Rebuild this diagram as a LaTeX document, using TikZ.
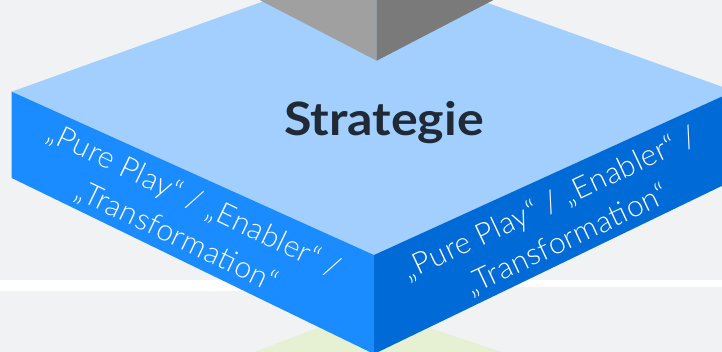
\documentclass[tikz,border=0pt]{standalone}
\usepackage{fontspec}
\setmainfont{Lato}
\newfontfamily\lightf{Lato Light}[LetterSpace=2]
\definecolor{bggray}{HTML}{F1F2F4}
\definecolor{topblue}{HTML}{A2CFFE}
\definecolor{leftblue}{HTML}{1A8CFF}
\definecolor{rightblue}{HTML}{006BD6}
\definecolor{cubeL}{HTML}{A0A0A0}
\definecolor{cubeR}{HTML}{7A7A7A}
\definecolor{greenish}{HTML}{E6F0D2}
\definecolor{darktext}{HTML}{1F2A36}
\tikzset{
  sidetext/.style={text=white, align=center, font=\lightf\fontsize{30}{40}\selectfont, inner sep=0pt},
  titletext/.style={text=darktext, font=\bfseries\fontsize{46}{50}\selectfont, inner sep=0pt, xscale=1.09}
}
\begin{document}
\begin{tikzpicture}[x=1pt,y=-1pt]
\useasboundingbox (0,0) rectangle (722,352);
\clip (0,0) rectangle (722,352);
% background
\fill[bggray] (0,0) rectangle (722,352);
\fill[white] (0,280) rectangle (722,287);
\fill[white] (0,287) rectangle (374,291);
% green layer below
\fill[greenish] (370,308) -- (220,365) -- (540,365) -- cycle;
% slab
\fill[topblue] (11.7,91.7) -- (373,-38) -- (734,91) -- (374,255) -- cycle;
\fill[leftblue] (11.7,91.7) -- (374,255) -- (374,354) -- (11.7,178) -- cycle;
\fill[rightblue] (374,255) -- (734,91) -- (734,180) -- (374,354) -- cycle;
% gray cube above
\fill[cubeL] (376.7,60.7) -- (248,-6) -- (376.7,-6) -- cycle;
\fill[cubeR] (376.7,60.7) -- (505,-6) -- (376.7,-6) -- cycle;
% texts
\node[titletext] (title) at (384,123) {Strategie};
\node[sidetext, rotate=-25.7] (lefttext) at (185,219) {„Pure Play“ / „Enabler“ /\\„Transformation“};
\node[sidetext, rotate=25.2] (righttext) at (559,222) {„Pure Play“ / „Enabler“ /\\„Transformation“};
\end{tikzpicture}
\end{document}
